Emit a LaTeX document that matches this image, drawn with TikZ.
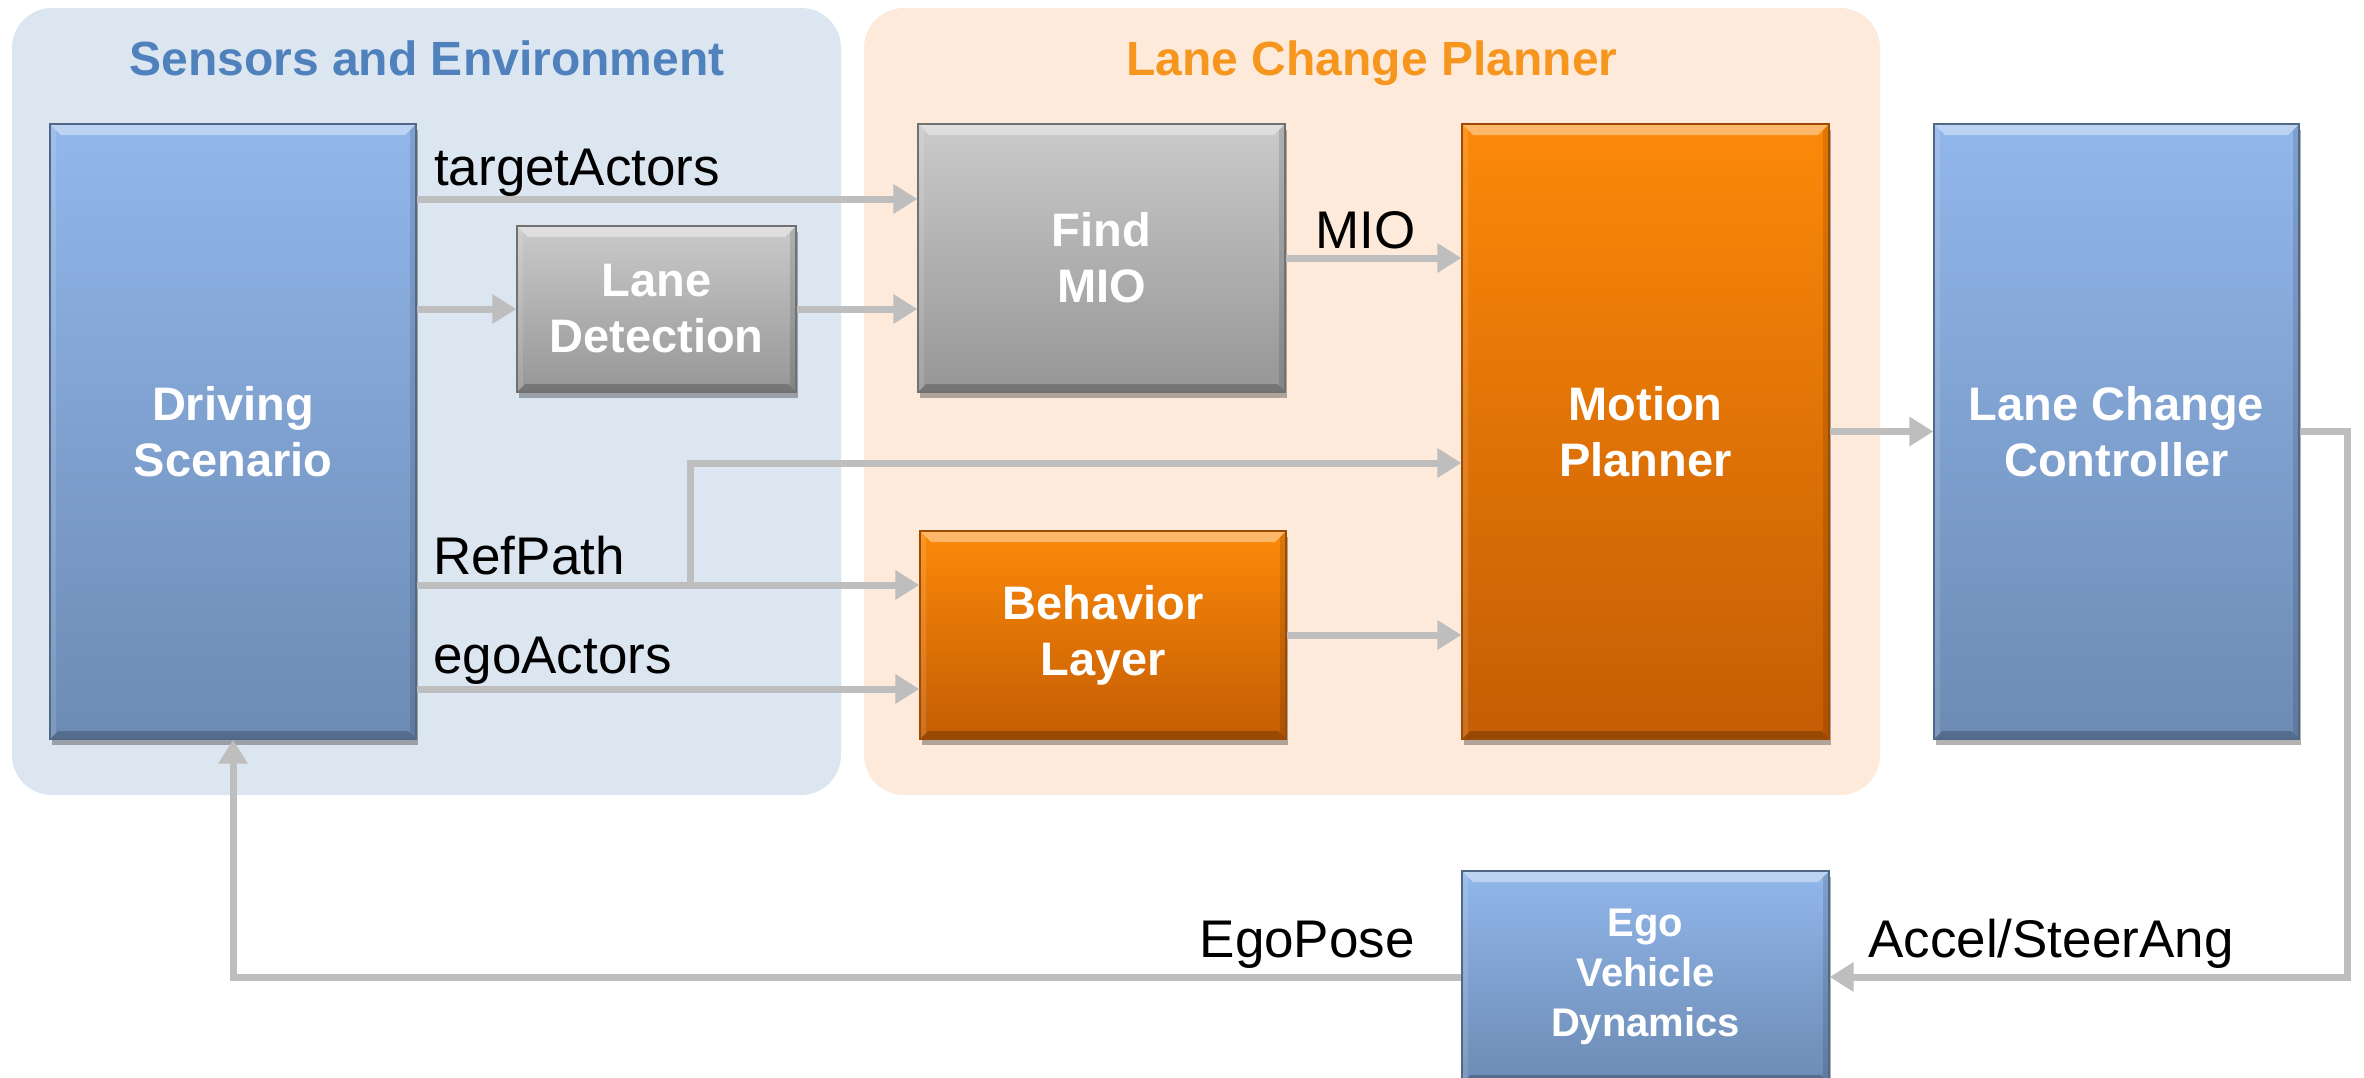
\documentclass[tikz,border=0pt]{standalone}
\usepackage{fontspec}
\setmainfont{Liberation Sans}
\usetikzlibrary{arrows.meta,shadows,calc}
\definecolor{bgblue}{HTML}{DCE6F1}
\definecolor{bgorange}{HTML}{FDEADA}
\definecolor{ttlblue}{HTML}{4F81BD}
\definecolor{ttlorange}{HTML}{F7961E}
\definecolor{bluetop}{RGB}{146,183,235}
\definecolor{bluebot}{RGB}{108,139,180}
\definecolor{greytop}{RGB}{202,202,202}
\definecolor{greybot}{RGB}{150,150,150}
\definecolor{orangetop}{RGB}{252,137,8}
\definecolor{orangebot}{RGB}{196,93,4}
\definecolor{wire}{RGB}{190,190,190}
\tikzset{
  group/.style={rounded corners=40pt, inner sep=0pt},
  grouptitle/.style={font=\fontsize{48}{56}\selectfont\bfseries, anchor=base},
  bevel/.style={path picture={
    \fill[white,opacity=.4] (path picture bounding box.north west) -- (path picture bounding box.north east)
      -- ([xshift=-11pt,yshift=-11pt]path picture bounding box.north east) -- ([xshift=11pt,yshift=-11pt]path picture bounding box.north west) -- cycle;
    \fill[black,opacity=.22] (path picture bounding box.south west) -- (path picture bounding box.south east)
      -- ([xshift=-8pt,yshift=8pt]path picture bounding box.south east) -- ([xshift=8pt,yshift=8pt]path picture bounding box.south west) -- cycle;
    \fill[black,opacity=.12] (path picture bounding box.north east) -- (path picture bounding box.south east)
      -- ([xshift=-6pt,yshift=6pt]path picture bounding box.south east) -- ([xshift=-6pt,yshift=-6pt]path picture bounding box.north east) -- cycle;
    \fill[white,opacity=.12] (path picture bounding box.north west) -- (path picture bounding box.south west)
      -- ([xshift=6pt,yshift=6pt]path picture bounding box.south west) -- ([xshift=6pt,yshift=-6pt]path picture bounding box.north west) -- cycle;
  }},
  block/.style={inner sep=0pt, align=center, text=white, bevel,
    font=\fontsize{47}{56}\selectfont\bfseries,
    drop shadow={shadow xshift=2pt, shadow yshift=-6pt, opacity=.3, fill=black}},
  bluebox/.style={block, top color=bluetop, bottom color=bluebot, draw=bluebot!75!black, line width=1.2pt},
  greybox/.style={block, top color=greytop, bottom color=greybot, draw=greybot!75!black, line width=1.2pt},
  orangebox/.style={block, top color=orangetop, bottom color=orangebot, draw=orangebot!80!black, line width=1.2pt},
  conn/.style={draw=wire, line width=7pt, -{Triangle[length=24pt,width=28pt]}},
  sig/.style={font=\fontsize{53}{60}\selectfont, inner sep=0pt}
}
\begin{document}
\begin{tikzpicture}[x=1pt,y=-1pt]
\clip (0,0) rectangle (2364,1077);
\fill[white] (0,0) rectangle (2364,1077);

% groups
\node[group, fill=bgblue, minimum width=829pt, minimum height=787pt] (grpSE) at (426.5,401.5) {};
\node[group, fill=bgorange, minimum width=1016pt, minimum height=787pt] (grpLCP) at (1372,401.5) {};
\node[grouptitle, text=ttlblue] (tSE) at (427,75) {Sensors and Environment};
\node[grouptitle, text=ttlorange] (tLCP) at (1372,75) {Lane Change Planner};

% blocks
\node[bluebox, minimum width=366pt, minimum height=615pt] (DS) at (233,431.5) {Driving\\Scenario};
\node[greybox, minimum width=279pt, minimum height=166pt] (LD) at (656.5,309) {Lane\\Detection};
\node[greybox, minimum width=367pt, minimum height=268pt] (FM) at (1101.5,258) {Find\\MIO};
\node[orangebox, minimum width=367pt, minimum height=615pt] (MP) at (1645.5,431.5) {Motion\\Planner};
\node[orangebox, minimum width=366pt, minimum height=208pt] (BL) at (1103,635) {Behavior\\Layer};
\node[bluebox, minimum width=365pt, minimum height=615pt] (LCC) at (2116.5,431.5) {Lane Change\\Controller};
\node[bluebox, minimum width=367pt, minimum height=212pt, font=\fontsize{40}{50}\selectfont\bfseries] (EVD) at (1645.5,977) {Ego\\Vehicle\\Dynamics};

% helper coordinates
\coordinate (yTA) at (0,199);
\coordinate (yRP) at (0,585);
\coordinate (yEA) at (0,689);
\coordinate (branch) at (690,585);
\coordinate (branchTop) at (690,463);
\coordinate (rc) at (2347,977);

% connectors
\draw[conn] (DS.east |- yTA) -- (FM.west |- yTA);
\draw[conn] (DS.east |- LD.west) -- (LD.west);
\draw[conn] (LD.east) -- (FM.west |- LD.east);
\draw[conn] (FM.east) -- (MP.west |- FM.east);
\draw[conn] (DS.east |- yRP) -- (BL.west |- yRP);
\draw[conn] (branch) -- (branchTop) -- (MP.west |- branchTop);
\draw[conn] (DS.east |- yEA) -- (BL.west |- yEA);
\draw[conn] (BL.east) -- (MP.west |- BL.east);
\draw[conn] (MP.east) -- (LCC.west);
\draw[conn] (LCC.east) -- (LCC.east -| rc) -- (rc) -- (EVD.east);
\draw[conn] (EVD.west) -| (DS.south);

% signal labels
\node[sig, anchor=base west] (lTA) at (434,185) {targetActors};
\node[sig, anchor=base west] (lMIO) at (1315,248) {MIO};
\node[sig, anchor=base west] (lRP) at (433,574) {RefPath};
\node[sig, anchor=base west] (lEA) at (433,673) {egoActors};
\node[sig, anchor=base east] (lEP) at (1415,957) {EgoPose};
\node[sig, anchor=base west] (lAS) at (1868,957) {Accel/SteerAng};
\end{tikzpicture}
\end{document}
